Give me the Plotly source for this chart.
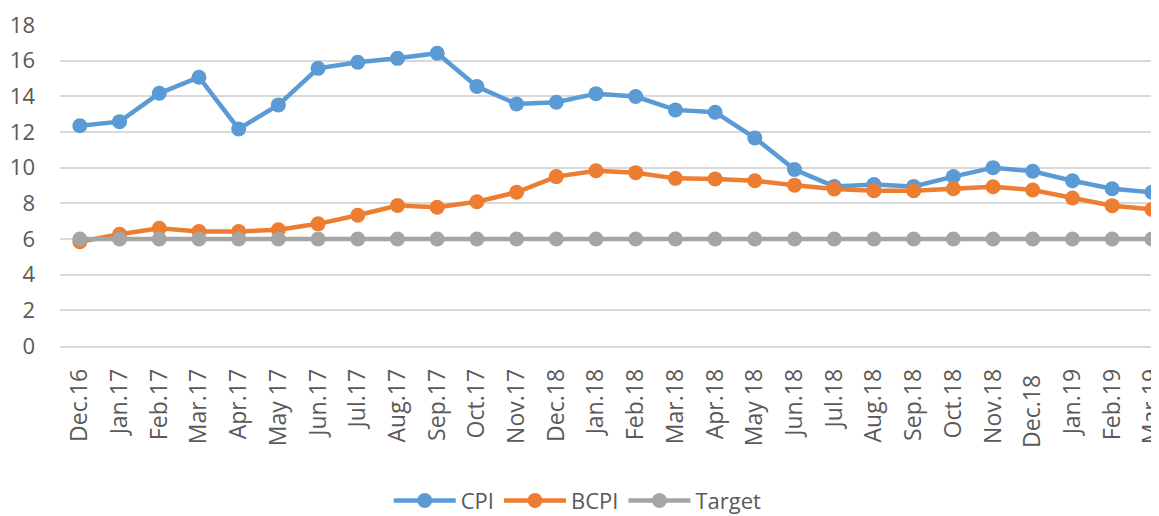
import plotly.graph_objects as go

months = ["Dec.16", "Jan.17", "Feb.17", "Mar.17", "Apr.17", "May 17", "Jun.17", "Jul.17",
          "Aug.17", "Sep.17", "Oct.17", "Nov.17", "Dec.18", "Jan.18", "Feb.18", "Mar.18",
          "Apr.18", "May 18", "Jun.18", "Jul.18", "Aug.18", "Sep.18", "Oct.18", "Nov.18",
          "Dec.18 ", "Jan.19", "Feb.19", "Mar.19"]

cpi = [12.35, 12.58, 14.17, 15.07, 12.17, 13.52, 15.57, 15.91, 16.13, 16.42, 14.55, 13.57,
       13.67, 14.15, 13.99, 13.24, 13.11, 11.67, 9.9, 8.95, 9.05, 8.95, 9.5, 10.0,
       9.8, 9.27, 8.82, 8.62]
bcpi = [5.85, 6.27, 6.6, 6.42, 6.42, 6.52, 6.85, 7.33, 7.88, 7.78, 8.09, 8.62,
        9.5, 9.83, 9.72, 9.4, 9.37, 9.27, 9.02, 8.8, 8.71, 8.71, 8.82, 8.93,
        8.75, 8.3, 7.87, 7.66]
target = [6] * len(months)

series = [("CPI", cpi, "#5B9BD5"), ("BCPI", bcpi, "#ED7D31"), ("Target", target, "#A5A5A5")]

fig = go.Figure()
for name, vals, col in series:
    fig.add_trace(go.Scatter(
        x=list(range(len(months))), y=vals, name=name, mode="lines+markers",
        line=dict(color=col, width=4.5),
        marker=dict(color=col, size=15),
    ))

fig.update_layout(
    width=1151, height=508,
    margin=dict(l=52, r=0, t=17, b=170, autoexpand=False),
    plot_bgcolor="white", paper_bgcolor="white",
    font=dict(family="Open Sans", color="#595959"),
    showlegend=True,
    legend=dict(orientation="h", xanchor="center", x=0.495, xref="container",
                yanchor="middle", y=0.03, yref="container",
                font=dict(size=22, color="#595959"), itemwidth=62, traceorder="normal"),
)
fig.update_xaxes(
    tickmode="array", tickvals=list(range(len(months))), ticktext=months,
    range=[-0.5, 27.18], tickangle=-90, tickfont=dict(size=23, color="#595959"),
    showgrid=False, showline=True, linecolor="#D9D9D9", linewidth=1.5,
    ticks="", ticklabelstandoff=12, zeroline=False, automargin=False,
    ticklabeloverflow="allow",
)
fig.update_yaxes(
    range=[0, 18], dtick=2, tickfont=dict(size=22, color="#595959"),
    showgrid=True, gridcolor="#D9D9D9", gridwidth=1.5, zeroline=False,
    showline=False, ticks="", ticklabelstandoff=24, automargin=False,
)

fig.write_html("out.html")
